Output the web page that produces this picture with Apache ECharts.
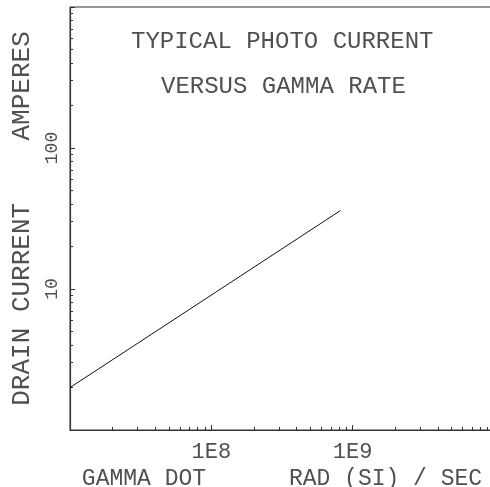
<!DOCTYPE html>
<html>
<head>
<meta charset="utf-8">
<script src="https://cdn.jsdelivr.net/npm/echarts@6/dist/echarts.min.js"></script>
<style>
html,body{margin:0;padding:0;background:#fff;}
#chart{width:490px;height:487px;}
</style>
</head>
<body>
<div id="chart"></div>
<script>
// Data
var titleLines = ['TYPICAL PHOTO CURRENT', 'VERSUS GAMMA RATE'];
var xName = 'GAMMA DOT      RAD (SI) / SEC';
var yName = 'DRAIN CURRENT    AMPERES';
var xRange = [1e7, 1e10];
var yRange = [1, 1000];
var xMajorTicks = [1e7, 1e8, 1e9, 1e10];
var xTickLabelValues = [1e8, 1e9];
var xTickLabels = ['1E8', '1E9'];
var yMajorTicks = [1, 10, 100, 1000];
var yTickLabelValues = [10, 100];
var yTickLabels = ['10', '100'];
var minorMultipliers = [2, 3, 4, 5, 6, 7, 8, 9];
var gammaRate = [1e7, 8.2e8];        // rad(Si)/s
var drainCurrent = [2.0, 36];        // amperes

function minorTicks(majors) {
  var out = [];
  for (var i = 0; i < majors.length - 1; i++) {
    for (var j = 0; j < minorMultipliers.length; j++) out.push(majors[i] * minorMultipliers[j]);
  }
  return out;
}
function labelFor(values, labels) {
  return function (v) {
    for (var i = 0; i < values.length; i++) {
      if (Math.abs(Math.log10(v) - Math.log10(values[i])) < 1e-6) return labels[i];
    }
    return '';
  };
}

var FONT = 'Liberation Mono';
var TXT = '#505050';
var AX = '#333';

var chart = echarts.init(document.getElementById('chart'), null, {renderer: 'canvas'});
var seriesData = gammaRate.map(function (x, i) { return [x, drainCurrent[i]]; });

var option = {
  animation: false,
  backgroundColor: '#fff',
  title: [
    {text: titleLines[0], left: 131, top: 30, padding: 0,
     textStyle: {fontFamily: FONT, fontSize: 24, fontWeight: 'normal', color: TXT}},
    {text: titleLines[1], left: 161, top: 75, padding: 0,
     textStyle: {fontFamily: FONT, fontSize: 24, fontWeight: 'normal', color: TXT}}
  ],
  grid: {left: 70, top: 7, width: 424, height: 423, show: true, outerBoundsMode: 'none',
         containLabel: false,
         borderColor: AX, borderWidth: 1, backgroundColor: 'transparent'},
  xAxis: [
    {type: 'log', logBase: 10, min: xRange[0], max: xRange[1], position: 'bottom',
     name: xName, nameLocation: 'middle', nameGap: 25,
     nameTextStyle: {fontFamily: FONT, fontSize: 23, color: TXT},
     axisLine: {show: true, lineStyle: {color: AX, width: 1.2}},
     axisTick: {show: true, inside: true, length: 5, customValues: xMajorTicks, lineStyle: {color: AX}},
     axisLabel: {show: true, customValues: xTickLabelValues, margin: 11,
                 formatter: labelFor(xTickLabelValues, xTickLabels),
                 fontFamily: FONT, fontSize: 22, color: TXT},
     splitLine: {show: false}},
    {type: 'log', logBase: 10, min: xRange[0], max: xRange[1], position: 'bottom',
     axisLine: {show: false},
     axisTick: {show: true, inside: true, length: 3, customValues: minorTicks(xMajorTicks), lineStyle: {color: AX}},
     axisLabel: {show: false},
     splitLine: {show: false}}
  ],
  yAxis: [
    {type: 'log', logBase: 10, min: yRange[0], max: yRange[1], position: 'left',
     name: yName, nameLocation: 'middle', nameGap: 29, nameRotate: 90,
     nameTextStyle: {fontFamily: FONT, fontSize: 26, color: TXT},
     axisLine: {show: true, lineStyle: {color: AX, width: 1.2}},
     axisTick: {show: true, inside: true, length: 5, customValues: yMajorTicks, lineStyle: {color: AX}},
     axisLabel: {show: true, customValues: yTickLabelValues, rotate: 90, margin: 9,
                 formatter: labelFor(yTickLabelValues, yTickLabels),
                 fontFamily: FONT, fontSize: 18, color: TXT},
     splitLine: {show: false}},
    {type: 'log', logBase: 10, min: yRange[0], max: yRange[1], position: 'left',
     axisLine: {show: false},
     axisTick: {show: true, inside: true, length: 3, customValues: minorTicks(yMajorTicks), lineStyle: {color: AX}},
     axisLabel: {show: false},
     splitLine: {show: false}}
  ],
  series: [{
    type: 'line', xAxisIndex: 0, yAxisIndex: 0, data: seriesData,
    symbol: 'none', lineStyle: {color: '#111', width: 1}, clip: true
  }]
};
chart.setOption(option);
</script>
</body>
</html>
